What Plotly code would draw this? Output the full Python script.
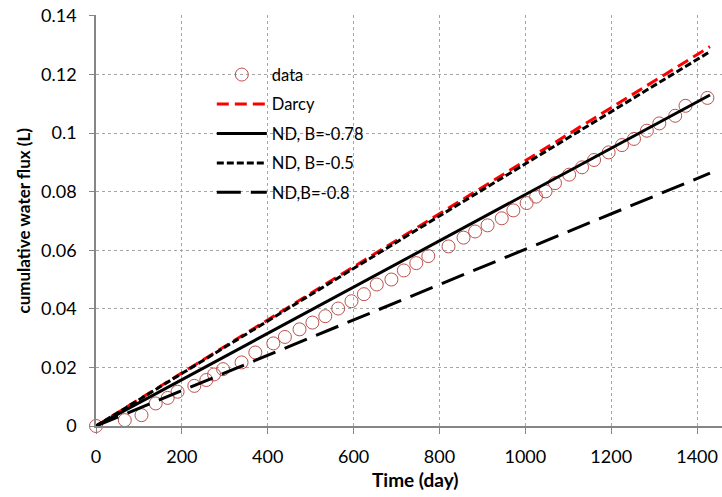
import plotly.graph_objects as go

# ---- data ----
time_data = [0, 67, 106, 139, 167, 190, 229, 257, 275, 296, 339, 371, 413, 440, 474, 504,
             534, 564, 595, 624, 654, 688, 717, 746, 774, 821, 856, 883, 912, 945, 972,
             1003, 1025, 1047, 1069, 1102, 1132, 1160, 1194, 1225, 1253, 1283, 1312,
             1349, 1373, 1424]
flux_data = [0, 0.0020, 0.0037, 0.0077, 0.0096, 0.0117, 0.0137, 0.0157, 0.0176, 0.0194,
             0.0217, 0.0251, 0.0282, 0.0304, 0.0330, 0.0353, 0.0375, 0.0401, 0.0426,
             0.0450, 0.0483, 0.0500, 0.0531, 0.0556, 0.0580, 0.0613, 0.0643, 0.0664,
             0.0685, 0.0709, 0.0736, 0.0761, 0.0783, 0.0801, 0.0829, 0.0858, 0.0883,
             0.0908, 0.0934, 0.0959, 0.0980, 0.1008, 0.1033, 0.1059, 0.1093, 0.1120]

time_model = [0, 200, 400, 600, 800, 1000, 1200, 1430]
flux_darcy = [0, 0.0181, 0.0362, 0.0543, 0.0725, 0.0906, 0.1087, 0.1295]
flux_nd_078 = [0, 0.0158, 0.0316, 0.0474, 0.0632, 0.0790, 0.0948, 0.1130]
flux_nd_05 = [0, 0.0180, 0.0360, 0.0538, 0.0717, 0.0895, 0.1073, 0.1278]
flux_nd_08 = [0, 0.0121, 0.0241, 0.0362, 0.0483, 0.0604, 0.0724, 0.0863]

x_ticks = [0, 200, 400, 600, 800, 1000, 1200, 1400]
y_ticks = [0, 0.02, 0.04, 0.06, 0.08, 0.1, 0.12, 0.14]
y_tick_labels = ["0", "0.02", "0.04", "0.06", "0.08", "0.1", "0.12", "0.14"]

x_title = "Time (day)"
y_title = "cumulative water flux (L)"

FONT = "Lato"

fig = go.Figure()
fig.add_trace(go.Scatter(
    x=time_data, y=flux_data, mode="markers", name="data", legendgroup="a",
    marker=dict(symbol="circle-open", size=13, color="#C0504D", line=dict(width=1)),
    cliponaxis=False))
fig.add_trace(go.Scatter(
    x=time_model, y=flux_darcy, mode="lines", name="Darcy", legendgroup="b",
    line=dict(color="#FF0000", width=3, dash="12px,6px")))
fig.add_trace(go.Scatter(
    x=time_model, y=flux_nd_078, mode="lines", name="ND, B=-0.78", legendgroup="c",
    line=dict(color="#000000", width=3)))
fig.add_trace(go.Scatter(
    x=time_model, y=flux_nd_05, mode="lines", name="ND, B=-0.5", legendgroup="d",
    line=dict(color="#000000", width=3, dash="7px,3px")))
fig.add_trace(go.Scatter(
    x=time_model, y=flux_nd_08, mode="lines", name="ND,B=-0.8", legendgroup="e",
    line=dict(color="#000000", width=3, dash="24px,10px")))

fig.update_layout(
    width=722, height=497,
    margin=dict(l=96, r=0, t=15, b=71, autoexpand=False),
    paper_bgcolor="white", plot_bgcolor="white",
    font=dict(family=FONT, size=18, color="#000000"),
    showlegend=True,
    legend=dict(x=0.185, y=0.897, xanchor="left", yanchor="top",
                bgcolor="rgba(0,0,0,0)", borderwidth=0,
                font=dict(family=FONT, size=16.5), itemwidth=50,
                tracegroupgap=5),
    xaxis=dict(range=[0, 1458], tickvals=x_ticks, ticktext=[str(v) for v in x_ticks],
               automargin=False, ticklabelstandoff=8, ticklabeloverflow="allow",
               showline=True, linecolor="#868686", linewidth=1.5,
               ticks="outside", ticklen=6, tickcolor="#868686",
               showgrid=True, gridcolor="#A6A6A6", griddash="dot", gridwidth=1,
               zeroline=False),
    yaxis=dict(range=[0, 0.1403], tickvals=y_ticks, ticktext=y_tick_labels,
               automargin=False, ticklabelstandoff=9, ticklabeloverflow="allow",
               showline=True, linecolor="#868686", linewidth=1.5,
               ticks="outside", ticklen=5, tickcolor="#868686",
               showgrid=True, gridcolor="#A6A6A6", griddash="dot", gridwidth=1,
               zeroline=False),
    annotations=[
        dict(text="<b>" + x_title + "</b>", xref="paper", yref="paper",
             x=0.5096, y=-0.131, xanchor="center", yanchor="middle",
             showarrow=False, font=dict(family=FONT, size=19)),
        dict(text="<b>" + y_title + "</b>", xref="paper", yref="paper",
             x=-0.1166, y=0.5, xanchor="center", yanchor="middle", textangle=-90,
             showarrow=False, font=dict(family=FONT, size=17)),
    ],
)

# remove the default 8px page margin so the figure fills the window exactly
fig.write_html("out.html", config={"displayModeBar": False},
               post_script="document.body.style.margin='0';")
